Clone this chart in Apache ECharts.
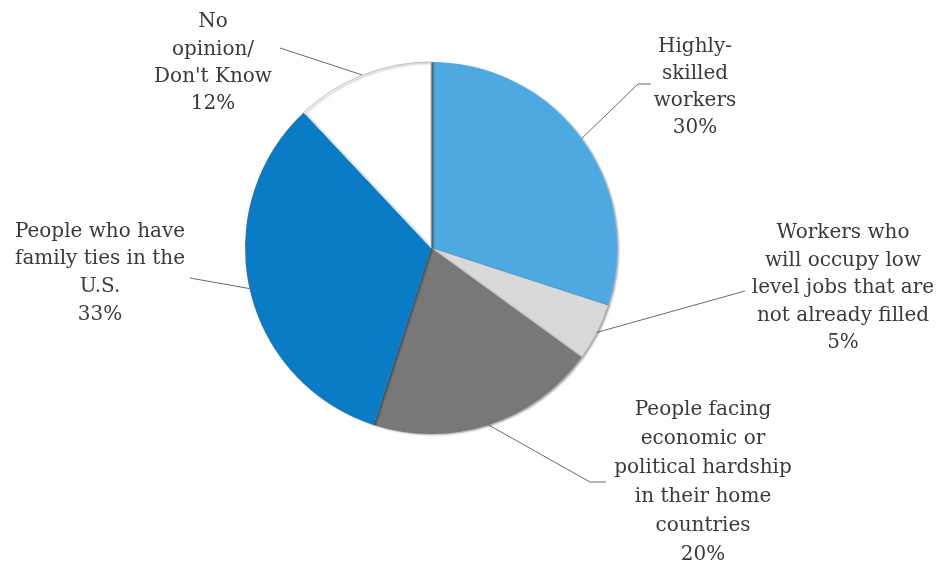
<!DOCTYPE html>
<html>
<head>
<meta charset="utf-8">
<script src="https://cdn.jsdelivr.net/npm/echarts@6/dist/echarts.min.js"></script>
<style>
  html, body { margin: 0; padding: 0; background: #ffffff; }
  #chart { width: 938px; height: 563px; }
</style>
</head>
<body>
<div id="chart"></div>
<script>
// Slice names (with their line breaks), shares in percent and fills
const categories = [
  'Highly-\nskilled\nworkers',
  'Workers who\nwill occupy low\nlevel jobs that are\nnot already filled',
  'People facing\neconomic or\npolitical hardship\nin their home\ncountries',
  'People who have\nfamily ties in the\nU.S.',
  'No\nopinion/\nDon\'t Know'
];
const shares = [30, 5, 20, 33, 12];
const sliceColors = ['#4ea9e0', '#d9d9d9', '#787878', '#0a7cc5', '#ffffff'];

// Label block centres, their line spacing, and leader-line ends (after the start on the rim)
const labelCenters = [[695, 87], [843, 288], [703, 482], [100, 273], [213, 63]];
const labelLineHeights = [27, 27.5, 29, 27.7, 27.3];
const leaderTails = [
  [[638, 84], [651, 84]],
  [[745, 291]],
  [[590, 482], [606, 482]],
  [[190, 278]],
  [[280, 48]]
];

const chart = echarts.init(document.getElementById('chart'), null, { renderer: 'canvas' });

const pieData = categories.map((name, i) => ({
  name: name,
  value: shares[i],
  itemStyle: {
    color: sliceColors[i],
    borderColor: i === 4 ? '#c4c4c4' : 'rgba(0,0,0,0)',
    borderWidth: i === 4 ? 1 : 0
  },
  label: { lineHeight: labelLineHeights[i] }
}));

chart.setOption({
  animation: false,
  backgroundColor: '#ffffff',
  textStyle: { fontFamily: 'DejaVu Serif' },
  series: [{
    type: 'pie',
    center: [431, 248],
    radius: 186,
    startAngle: 90,
    clockwise: true,
    avoidLabelOverlap: false,
    data: pieData,
    itemStyle: {
      shadowColor: 'rgba(0,0,0,0.35)',
      shadowBlur: 2,
      shadowOffsetX: 2,
      shadowOffsetY: 1
    },
    emphasis: { disabled: true },
    label: {
      show: true,
      position: 'outside',
      formatter: p => p.name + '\n' + p.value + '%',
      fontFamily: 'DejaVu Serif',
      fontSize: 20,
      color: '#3a3a3a',
      align: 'center'
    },
    labelLine: {
      show: true,
      length: 20,
      length2: 20,
      smooth: false,
      lineStyle: { color: '#6a6a6a', width: 1 }
    },
    labelLayout: function (params) {
      const i = params.dataIndex;
      const start = params.labelLinePoints ? params.labelLinePoints[0] : null;
      const out = {
        x: labelCenters[i][0],
        y: labelCenters[i][1],
        align: 'center',
        verticalAlign: 'middle'
      };
      if (start) {
        const pts = [start].concat(leaderTails[i]);
        if (pts.length === 2) pts.push(pts[1]);
        out.labelLinePoints = pts;
      }
      return out;
    }
  }]
});
</script>
</body>
</html>
